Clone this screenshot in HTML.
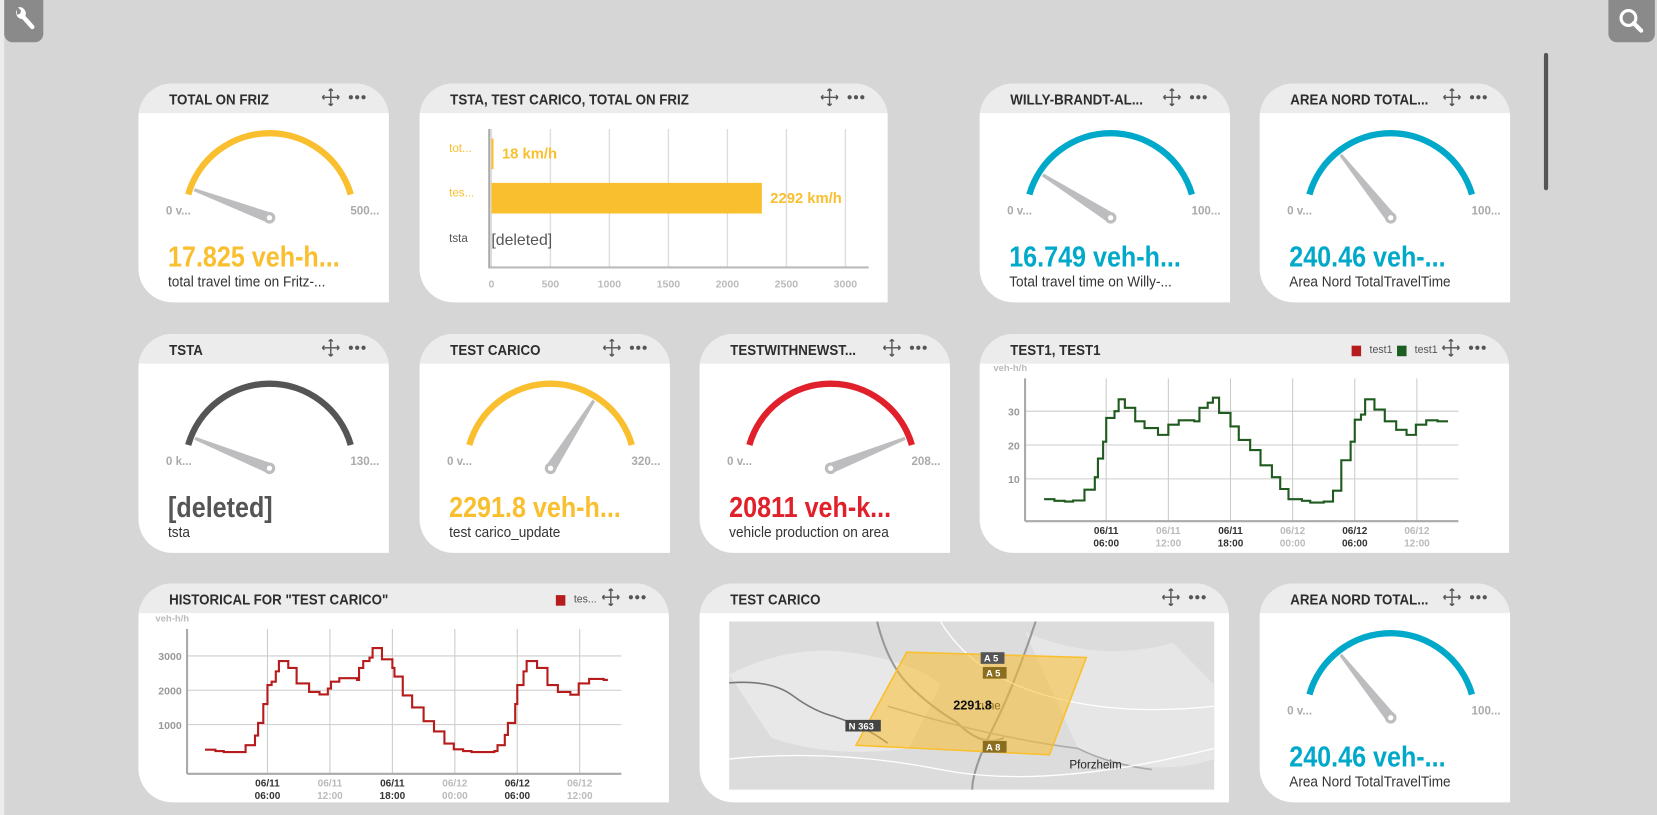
<!DOCTYPE html>
<html><head><meta charset="utf-8">
<style>
html,body{margin:0;padding:0;width:1657px;height:815px;overflow:hidden;background:#d6d6d6;}
#wrap{position:absolute;left:0;top:0;width:1568px;height:771px;transform-origin:0 0;transform:scale(1.05676,1.05707);font-family:"Liberation Sans Narrow","Liberation Sans",sans-serif;}
.card{position:absolute;background:#fff;border-radius:32px 32px 0 32px;overflow:hidden;}
.hdr{position:absolute;left:0;top:0;right:0;height:28px;background:#ececec;}
.ttl{position:absolute;left:29px;top:7px;font-weight:bold;font-size:14px;color:#2d2d2d;white-space:nowrap;transform:scaleX(0.9);transform-origin:0 0;}
.ico{position:absolute;top:4px;}
.gv{position:absolute;left:28px;font-weight:bold;font-size:27px;white-space:nowrap;transform:scaleX(0.88);transform-origin:0 0;}
.gs{position:absolute;left:28px;font-size:14px;color:#333;white-space:nowrap;transform:scaleX(0.92);transform-origin:0 0;}
.btn{position:absolute;top:0;background:#8a8a8a;border-radius:0 0 8px 8px;}
svg text{font-family:"Liberation Sans Narrow","Liberation Sans",sans-serif;}
</style></head>
<body>
<div id="wrap">
<div style="position:absolute;left:0;top:0;width:4px;height:771px;background:#ececec"></div>
<div class="btn" style="left:4px;width:37px;height:40px">
<svg width="37" height="40"><path d="M12 9 a6 6 0 0 0 5 9 l8 9 a2 2 0 0 0 3 -3 l-8 -9 a6 6 0 0 0 -7 -8 l3 3 -1 3 -3 1z" fill="#fff"/></svg></div>
<div class="btn" style="left:1522px;width:44px;height:40px">
<svg width="44" height="40"><circle cx="19" cy="17" r="7" stroke="#fff" stroke-width="3" fill="none"/><line x1="24" y1="22" x2="31" y2="29" stroke="#fff" stroke-width="4" stroke-linecap="round"/></svg></div>
<div style="position:absolute;left:1461px;top:50px;width:4px;height:130px;background:#555;border-radius:2px"></div>
<div id="cards"></div>
</div>
<script>
// gauge data
const gaugeTitles=["TOTAL ON FRIZ","WILLY-BRANDT-AL...","AREA NORD TOTAL...","TSTA","TEST CARICO","TESTWITHNEWST...","AREA NORD TOTAL..."];
const gaugeFractions=[0.03,0.11,0.24,0.04,0.72,0.96,0.24];
const gaugeValues=["17.825 veh-h...","16.749 veh-h...","240.46 veh-...","[deleted]","2291.8 veh-h...","20811 veh-k...","240.46 veh-..."];
const gaugeSubs=["total travel time on Fritz-...","Total travel time on Willy-...","Area Nord TotalTravelTime","tsta","test carico_update","vehicle production on area","Area Nord TotalTravelTime"];
const gaugeMins=["0 v...","0 v...","0 v...","0 k...","0 v...","0 v...","0 v..."];
const gaugeMaxs=["500...","100...","100...","130...","320...","208...","100..."];
const gaugeColors=["#f9bf2e","#00a9c9","#00a9c9","#555555","#f9bf2e","#e0202a","#00a9c9"];
// bar chart data
const barCats=["tot...","tes...","tsta"];
const barValues=[18,2292,null];
const barLabels=["18 km/h","2292 km/h","[deleted]"];
const barTicks=[0,500,1000,1500,2000,2500,3000];
// line chart data (hours since 06/11 00:00)
const test1Hours=[0,1,2,2.8,3.9,4.9,5.2,5.7,6,6.8,7.2,7.8,8.8,9.7,11,12,13,14.5,15,15.8,16.3,16.9,18,18.8,19.9,20.9,22,22.8,23.6,24.9,25.7,27,27.9,28.7,29.6,30,30.6,31,31.9,32.9,34,35,35.9,36.9,38,38.6];
const test1Values=[4,3.5,3.3,3.6,6.8,10.5,16,21,28,30,33.5,31,27,25,23,26,27.3,27,31,32.5,34,29.5,25.5,21.5,18.5,14,10.5,7,4,3.5,3,3.3,6.5,15.5,21,27.5,29,33.5,30.5,27,24.5,23,26,27.3,27,27];
const histHours=[0,1,1.8,3.9,4.8,5.1,5.6,6,6.4,6.8,7.1,8,8.8,10,11,11.8,12.1,12.9,14.6,14.8,15.2,15.8,16.1,17,18,18.2,19,19.9,21,22,23,23.9,24.8,25.6,27.8,28.1,28.8,29.1,29.8,30,30.6,30.9,31.9,32.9,33.9,35.1,35.9,36.9,38.3];
const histValues=[270,230,200,400,680,1050,1600,2150,2250,2550,2850,2650,2200,1950,1880,2050,2250,2350,2300,2650,2850,2950,3230,2900,2650,2400,1850,1500,1100,800,450,280,230,200,230,400,700,1050,1600,2150,2550,2850,2650,2150,1950,1870,2200,2330,2300];
const test1YTicks=[10,20,30];
const histYTicks=[1000,2000,3000];
const xTickHours=[6,12,18,24,30,36];
const xTickTop=["06/11","06/11","06/11","06/12","06/12","06/12"];
const xTickBot=["06:00","12:00","18:00","00:00","06:00","12:00"];

const NS="http://www.w3.org/2000/svg";
const cards=document.getElementById('cards');
function mk(tag,attrs,parent){const e=document.createElementNS(NS,tag);for(const k in attrs)e.setAttribute(k,attrs[k]);if(parent)parent.appendChild(e);return e;}
function moveIcon(){return '<svg width="18" height="18" viewBox="0 0 18 18"><path d="M9 1v16M1 9h16M9 1l-2 2M9 1l2 2M9 17l-2-2M9 17l2-2M1 9l2-2M1 9l2 2M17 9l-2-2M17 9l-2 2" stroke="#555" stroke-width="1.3" fill="none"/></svg>';}
function dots(){return '<svg width="20" height="18"><circle cx="4" cy="9" r="2" fill="#555"/><circle cx="10" cy="9" r="2" fill="#555"/><circle cx="16" cy="9" r="2" fill="#555"/></svg>';}
function card(x,y,w,h,title,name){
  const c=document.createElement('div');c.className='card';
  
  
  c.style.cssText=`left:${x}px;top:${y}px;width:${w}px;height:${h}px`;
  c.innerHTML=`<div class="hdr"></div><div class="ttl">${title}</div>`;
  const mv=document.createElement('div');mv.className='ico';mv.style.left=(w-64)+'px';mv.innerHTML=moveIcon();
  
  
  const dt=document.createElement('div');dt.className='ico';dt.style.left=(w-40)+'px';dt.innerHTML=dots();
  
  
  c.appendChild(mv);c.appendChild(dt);cards.appendChild(c);return c;
}
function gauge(i,x,y){
  const c=card(x,y,237,207,gaugeTitles[i],'gauge-card');
  const s=mk('svg',{width:237,height:207,style:'position:absolute;left:0;top:0'},c);
  const cx=124,cy=127,r=80;
  const a0=164*Math.PI/180,a1=16*Math.PI/180;
  const arc=mk('path',{d:`M${cx+r*Math.cos(a0)} ${cy-r*Math.sin(a0)} A${r} ${r} 0 0 1 ${cx+r*Math.cos(a1)} ${cy-r*Math.sin(a1)}`,stroke:gaugeColors[i],'stroke-width':6,fill:'none'},s);
  
  
  const ang=(164-148*gaugeFractions[i])*Math.PI/180;
  const L=76,ux=Math.cos(ang),uy=-Math.sin(ang),px=-uy,py=ux;
  const nd=mk('path',{d:`M${cx+px*5} ${cy+py*5} L${cx+ux*L+px*1.5} ${cy+uy*L+py*1.5} L${cx+ux*L-px*1.5} ${cy+uy*L-py*1.5} L${cx-px*5} ${cy-py*5}Z`,fill:'#bdbdbf'},s);
  
  
  mk('circle',{cx,cy,r:5.5,fill:'#bdbdbf'},s);mk('circle',{cx,cy,r:2.5,fill:'#fff'},s);
  const t1=mk('text',{x:26,y:124,'font-size':11,'font-weight':'bold',fill:'#aaa'},s);t1.textContent=gaugeMins[i];
  
  
  const t2=mk('text',{x:228,y:124,'font-size':11,'font-weight':'bold',fill:'#aaa','text-anchor':'end'},s);t2.textContent=gaugeMaxs[i];
  
  
  const v=document.createElement('div');v.className='gv';v.style.top='149px';v.style.color=gaugeColors[i];v.textContent=gaugeValues[i];
  
  
  const sb=document.createElement('div');sb.className='gs';sb.style.top='179px';sb.textContent=gaugeSubs[i];
  
  
  c.appendChild(v);c.appendChild(sb);
}
gauge(0,131,79);gauge(1,927,79);gauge(2,1192,79);
gauge(3,131,316);gauge(4,397,316);gauge(5,662,316);
gauge(6,1192,552);

// bar chart
(function(){
  const c=card(397,79,443,207,'TSTA, TEST CARICO, TOTAL ON FRIZ','bar-chart-card');
  const s=mk('svg',{width:443,height:207,style:'position:absolute;left:0;top:0'},c);
  const x0=68,xs=v=>x0+v*(335/3000),yT=43,yB=174;
  barTicks.forEach(t=>{
    mk('line',{x1:xs(t),x2:xs(t),y1:yT,y2:yB,stroke:'#ddd','stroke-width':1.3},s);
    const tx=mk('text',{x:xs(t),y:193,'font-size':10,'font-weight':'bold',fill:'#bbb','text-anchor':'middle'},s);tx.textContent=t;
    
    
  });
  mk('line',{x1:x0-2,x2:x0-2,y1:yT,y2:yB+1,stroke:'#aaa','stroke-width':2},s);
  mk('line',{x1:x0-2,x2:425,y1:yB,y2:yB,stroke:'#bbb','stroke-width':2},s);
  const ys=[52,94,137];
  barCats.forEach((cat,i)=>{
    const l=mk('text',{x:28,y:ys[i]+13,'font-size':11,fill:i<2?'#f9bf2e':'#555'},s);l.textContent=cat;
    
    
    if(barValues[i]!==null){
      const w=Math.max(2,xs(barValues[i])-x0);
      const b=mk('rect',{x:x0,y:ys[i],width:w,height:29,fill:'#f9bf2e'},s);
      
      
      const vl=mk('text',{x:x0+w+8,y:ys[i]+19,'font-size':14,'font-weight':'bold',fill:'#f9bf2e'},s);vl.textContent=barLabels[i];
      
      
    } else {
      const vl=mk('text',{x:x0,y:ys[i]+16,'font-size':15,fill:'#555'},s);vl.textContent=barLabels[i];
      
      
    }
  });
})();

function legendHTML(items){return items.map(it=>`<span style="display:inline-block;width:9px;height:10px;background:${it[0]};margin:0 8px 0 0;vertical-align:middle"></span><span style="font-size:10px;color:#555;margin-right:4px;vertical-align:middle">${it[1]}</span>`).join('');}

function lineChart(x,y,w,title,legend,legendLeft,hours,vals,yTicks,ox,xPerH,oy,yPer,color,axX,axTop,axB,axR,name){
  const c=card(x,y,w,207,title,name);
  const lg=document.createElement('div');lg.style.cssText=`position:absolute;left:${legendLeft}px;top:7px;white-space:nowrap`;lg.innerHTML=legendHTML(legend);
  
  
  c.appendChild(lg);
  const s=mk('svg',{width:w,height:207,style:'position:absolute;left:0;top:0'},c);
  const X=h=>ox+h*xPerH, Y=v=>oy-v*yPer;
  const u=mk('text',{x:axX-30,y:axTop-7,'font-size':9,'font-weight':'bold',fill:'#bbb'},s);u.textContent='veh-h/h';
  
  
  yTicks.forEach(t=>{
    mk('line',{x1:axX,x2:axR,y1:Y(t),y2:Y(t),stroke:'#ccc','stroke-width':1},s);
    const tx=mk('text',{x:axX-5,y:Y(t)+4,'font-size':10,'font-weight':'bold',fill:'#999','text-anchor':'end'},s);tx.textContent=t;
    
    
  });
  xTickHours.forEach((hh,i)=>{
    mk('line',{x1:X(hh),x2:X(hh),y1:axTop,y2:axB,stroke:'#ccc','stroke-width':1},s);
    const col=i%2?'#bbb':'#333';
    const a=mk('text',{x:X(hh),y:axB+12,'font-size':9.5,'font-weight':'bold',fill:col,'text-anchor':'middle'},s);a.textContent=xTickTop[i];
    
    
    const b=mk('text',{x:X(hh),y:axB+24,'font-size':9.5,'font-weight':'bold',fill:col,'text-anchor':'middle'},s);b.textContent=xTickBot[i];
    
    
  });
  mk('line',{x1:axX,x2:axX,y1:axTop,y2:axB,stroke:'#aaa','stroke-width':2},s);
  mk('line',{x1:axX,x2:axR,y1:axB,y2:axB,stroke:'#aaa','stroke-width':2},s);
  let d='';
  hours.forEach((h,i)=>{
    if(i===0)d+=`M${X(h)} ${Y(vals[i])}`;
    else d+=` H${X(h)} V${Y(vals[i])}`;
  });
  d+=` H${X(hours[hours.length-1])+4}`;
  const p=mk('path',{d,stroke:color,'stroke-width':2,fill:'none'},s);
  
  
}
lineChart(927,316,501,'TEST1, TEST1',[['#b71c1c','test1'],['#1b5e20','test1']],352,
  test1Hours,test1Values,test1YTicks,61,9.8,169,3.2,'#1f5a1f',43,42,177,453,'line-chart-test1');
lineChart(131,552,502,'HISTORICAL FOR "TEST CARICO"',[['#b71c1c','tes...']],395,
  histHours,histValues,histYTicks,63,9.85,166,0.0325,'#b71c1c',46,43,180,457,'line-chart-historical');

// map card
(function(){
  const c=card(662,552,501,207,'TEST CARICO','map-card');
  const s=mk('svg',{width:501,height:207,style:'position:absolute;left:0;top:0'},c);
  const g=mk('g',{transform:'translate(28,36)'},s);
  mk('rect',{x:0,y:0,width:459,height:159,fill:'#dcdcdc'},g);
  mk('path',{d:'M0 50 Q60 20 120 30 T200 60 L170 120 Q100 130 40 110Z',fill:'#e8e8e8'},g);
  mk('path',{d:'M280 10 Q350 40 420 20 L459 60 L459 130 Q400 150 330 120Z',fill:'#e6e6e6'},g);
  mk('path',{d:'M0 58 Q40 55 60 70 T100 90 Q130 100 150 115',stroke:'#777','stroke-width':1.5,fill:'none'},g);
  mk('path',{d:'M140 0 Q150 40 170 60 T215 95 Q240 120 260 110',stroke:'#999','stroke-width':2,fill:'none'},g);
  mk('path',{d:'M290 0 Q270 60 250 100 T230 159',stroke:'#999','stroke-width':2,fill:'none'},g);
  mk('path',{d:'M150 80 Q250 110 330 120 Q360 135 400 140',stroke:'#aaa','stroke-width':1.5,fill:'none'},g);
  mk('path',{d:'M200 0 Q230 50 300 70 T459 80',stroke:'#fff','stroke-width':1.2,fill:'none'},g);
  mk('path',{d:'M0 130 Q100 120 200 140 T459 120',stroke:'#fff','stroke-width':1.2,fill:'none'},g);
  const poly=mk('polygon',{points:'168,29 338,34 303,126 120,117',fill:'rgba(249,191,46,0.55)',stroke:'#f9bf2e','stroke-width':1.5},g);
  
  
  function sh(x,y,t,bg){mk('rect',{x,y,width:t.length*5.5+6,height:11,fill:bg},g);const tt=mk('text',{x:x+3,y:y+9,'font-size':9,'font-weight':'bold',fill:'#fff'},g);tt.textContent=t;}
  sh(238,29,'A 5','#555');sh(240,43,'A 5','#8a6d1f');sh(110,93,'N 363','#444');sh(240,113,'A 8','#8a6d1f');
  const k=mk('text',{x:235,y:83,'font-size':11,fill:'#8a6d1f'},g);k.textContent='ruhe';
  const v=mk('text',{x:212,y:83,'font-size':12,'font-weight':'bold',fill:'#111'},g);v.textContent='2291.8';
  
  
  const pf=mk('text',{x:322,y:139,'font-size':11,fill:'#222'},g);pf.textContent='Pforzheim';
})();
</script>
</body></html>
